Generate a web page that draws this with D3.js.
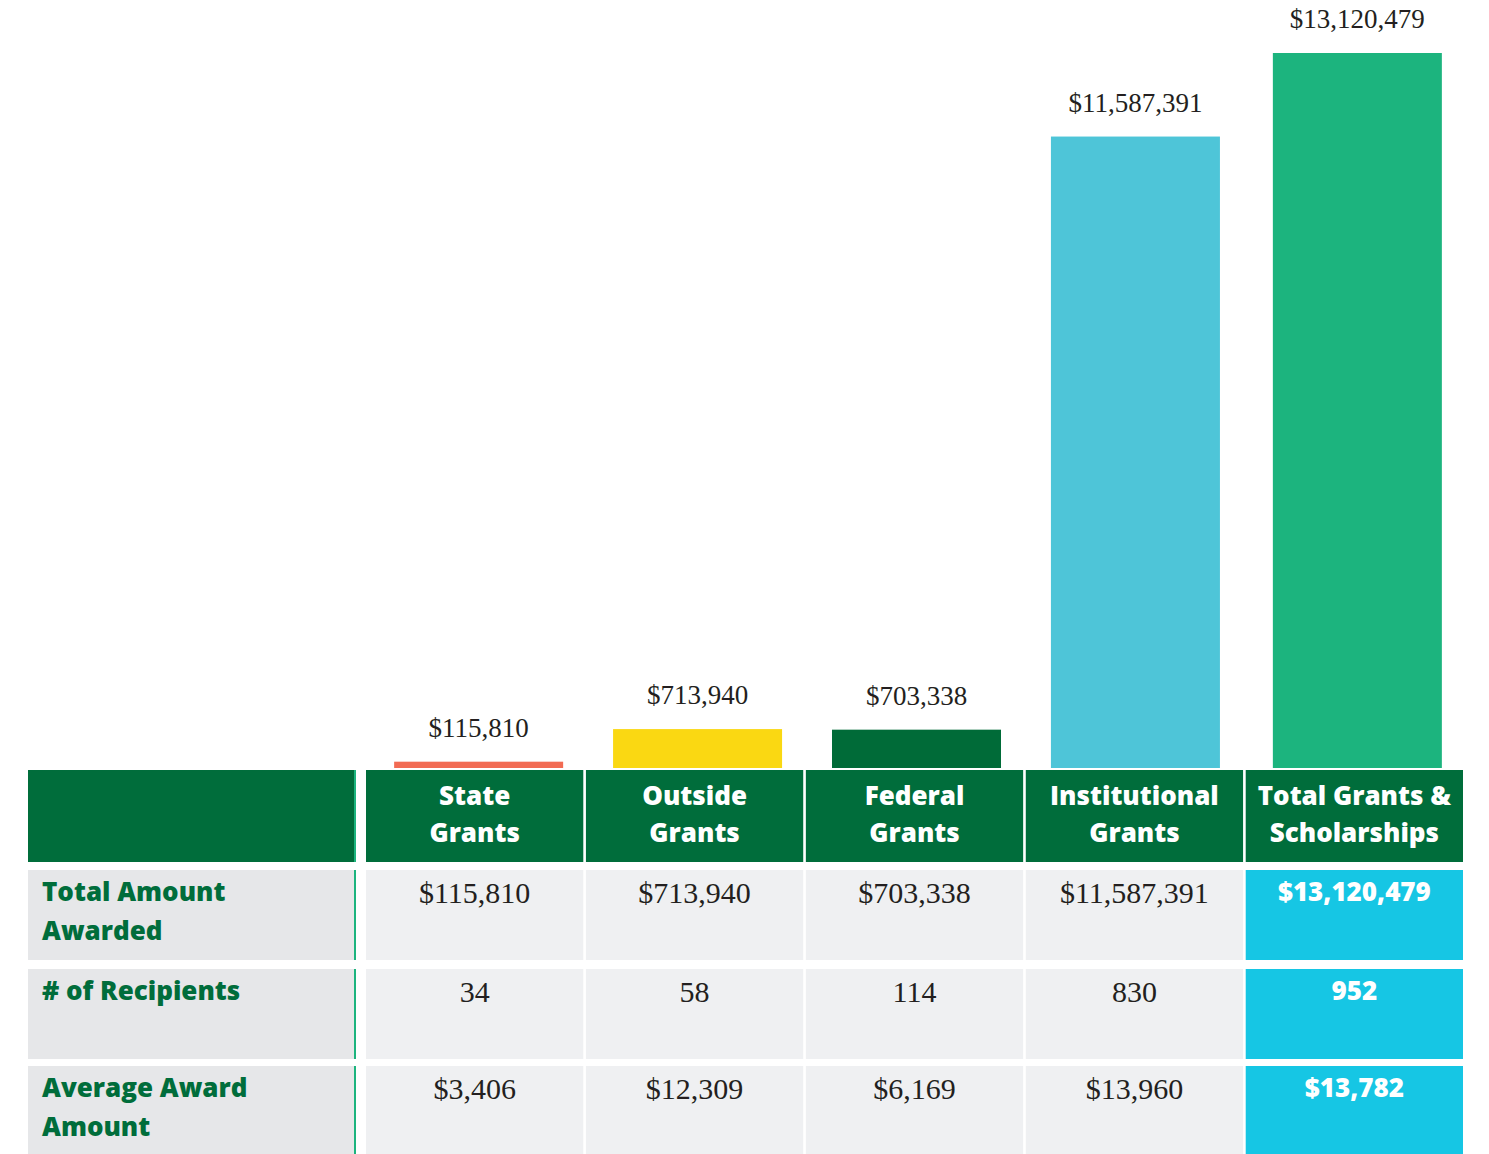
<!DOCTYPE html>
<html>
<head>
<meta charset="utf-8">
<script src="https://cdn.jsdelivr.net/npm/d3@7"></script>
<style>
  html, body { margin: 0; padding: 0; background: #ffffff; }
  svg { display: block; }
</style>
</head>
<body>
<svg id="chart" width="1489" height="1154"></svg>
<script>
// ---- Data ----
const categories = ["State Grants", "Outside Grants", "Federal Grants", "Institutional Grants", "Total Grants & Scholarships"];
const headerLines = [["State", "Grants"], ["Outside", "Grants"], ["Federal", "Grants"], ["Institutional", "Grants"], ["Total Grants &", "Scholarships"]];
const totalAwarded = [115810, 713940, 703338, 11587391, 13120479];
const recipients = [34, 58, 114, 830, 952];
const averageAward = [3406, 12309, 6169, 13960, 13782];
const rowLabels = [["Total Amount", "Awarded"], ["# of Recipients"], ["Average Award", "Amount"]];
const barColors = ["#f26b53", "#fad812", "#006b38", "#4ec5d8", "#1cb47e"];

// ---- Layout ----
const svg = d3.select("#chart");
const fmtMoney = v => "$" + d3.format(",")(v);
const fmtInt = d3.format(",");
const sansFont = "'Open Sans', Lato, sans-serif";
const serifFont = "'Liberation Serif', 'DejaVu Serif', serif";

const x = d3.scaleBand().domain(categories).range([366, 1463]).paddingInner(0.012).paddingOuter(0);
const baseY = 768;
const y = d3.scaleLinear().domain([0, d3.max(totalAwarded)]).range([baseY, 53]);
const barW = 169;
const barOffset = [4, 3, 2, 1, 3];

// Bars
svg.append("g").selectAll("rect")
  .data(categories)
  .join("rect")
  .attr("x", (d, i) => x(d) + (x.bandwidth() - barW) / 2 + barOffset[i])
  .attr("y", (d, i) => y(totalAwarded[i]))
  .attr("width", barW)
  .attr("height", (d, i) => baseY - y(totalAwarded[i]))
  .attr("fill", (d, i) => barColors[i]);

// Bar labels
svg.append("g").selectAll("text")
  .data(categories)
  .join("text")
  .attr("x", (d, i) => x(d) + x.bandwidth() / 2 + barOffset[i])
  .attr("y", (d, i) => y(totalAwarded[i]) - 25)
  .attr("text-anchor", "middle")
  .attr("font-family", serifFont)
  .attr("font-size", 27)
  .attr("fill", "#231f20")
  .text((d, i) => fmtMoney(totalAwarded[i]));

// ---- Table ----
const headerTop = 770, headerH = 92;
const rowTops = [870, 969, 1066];
const rowH = 90;
const labelX0 = 28, labelX1 = 354;
const green = "#006d3b";
const accent = "#1cb47e";

// Header left cell
svg.append("rect").attr("x", labelX0).attr("y", headerTop).attr("width", labelX1 - labelX0).attr("height", headerH).attr("fill", green);
svg.append("rect").attr("x", labelX1).attr("y", headerTop).attr("width", 2).attr("height", headerH).attr("fill", accent);

// Header cells
const hdr = svg.append("g");
categories.forEach((c, i) => {
  hdr.append("rect").attr("x", x(c)).attr("y", headerTop).attr("width", x.bandwidth()).attr("height", headerH).attr("fill", green);
  const t = hdr.append("text")
    .attr("text-anchor", "middle")
    .attr("font-family", sansFont)
    .attr("font-weight", 800)
    .attr("font-size", 26)
    .attr("fill", "#ffffff");
  headerLines[i].forEach((ln, j) => {
    t.append("tspan").attr("x", x(c) + x.bandwidth() / 2).attr("y", 805 + j * 37).text(ln);
  });
});

// Rows
const rowsData = [totalAwarded.map(fmtMoney), recipients.map(fmtInt), averageAward.map(fmtMoney)];
const rowG = svg.append("g");
rowTops.forEach((top, r) => {
  rowG.append("rect").attr("x", labelX0).attr("y", top).attr("width", labelX1 - labelX0).attr("height", rowH).attr("fill", "#e6e7e9");
  rowG.append("rect").attr("x", labelX1).attr("y", top).attr("width", 2).attr("height", rowH).attr("fill", accent);
  const lt = rowG.append("text")
    .attr("font-family", sansFont)
    .attr("font-weight", 800)
    .attr("font-size", 26)
    .attr("fill", green);
  rowLabels[r].forEach((ln, j) => {
    lt.append("tspan").attr("x", 42).attr("y", top + 31 + j * 39).text(ln);
  });
  categories.forEach((c, i) => {
    const isTotal = i === categories.length - 1;
    rowG.append("rect").attr("x", x(c)).attr("y", top).attr("width", x.bandwidth()).attr("height", rowH)
      .attr("fill", isTotal ? "#16c6e4" : "#eff0f2");
    rowG.append("text")
      .attr("x", x(c) + x.bandwidth() / 2)
      .attr("y", top + (isTotal ? 31 : 33))
      .attr("text-anchor", "middle")
      .attr("font-family", isTotal ? sansFont : serifFont)
      .attr("font-weight", isTotal ? 800 : 400)
      .attr("font-size", isTotal ? 26 : 30)
      .attr("fill", isTotal ? "#ffffff" : "#231f20")
      .text(rowsData[r][i]);
  });
});
</script>
</body>
</html>
